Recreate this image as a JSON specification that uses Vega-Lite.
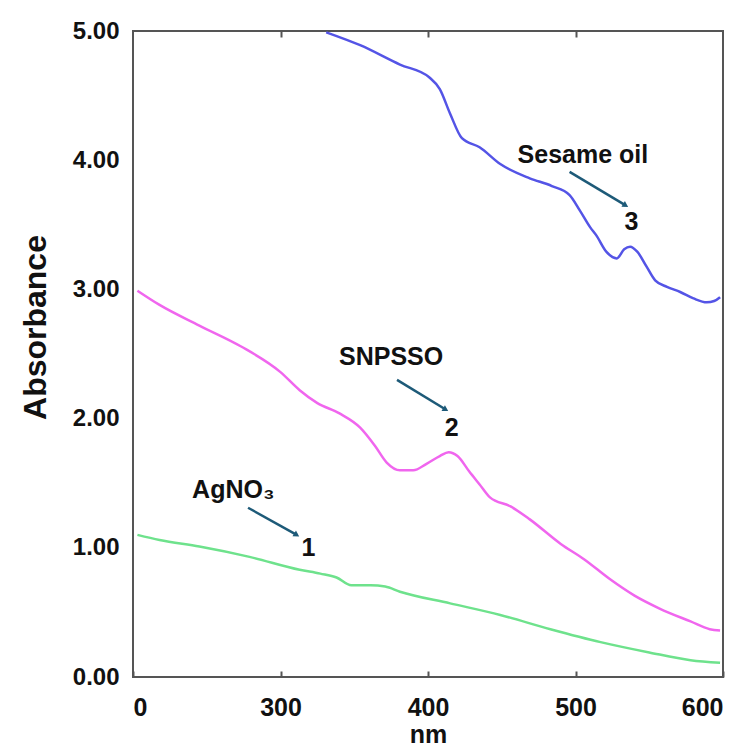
{
  "$schema": "https://vega.github.io/schema/vega-lite/v6.json",
  "autosize": {"type": "none"},
  "width": 590,
  "height": 646,
  "padding": {"left": 133, "top": 31, "right": 21, "bottom": 72},
  "background": "white",
  "config": {
    "view": {"stroke": "#555555", "strokeWidth": 2},
    "axis": {
      "grid": false,
      "domain": false,
      "labelFont": "Liberation Sans",
      "labelFontWeight": "bold",
      "labelFontSize": 24,
      "labelColor": "#111111",
      "titleFont": "Liberation Sans",
      "titleFontWeight": "bold",
      "titleColor": "#111111"
    }
  },
  "datasets": {
    "spectra": [
      {"series": "Sesame oil", "nm": 331, "abs": 4.99},
      {"series": "Sesame oil", "nm": 354, "abs": 4.89},
      {"series": "Sesame oil", "nm": 381, "abs": 4.74},
      {"series": "Sesame oil", "nm": 401, "abs": 4.64},
      {"series": "Sesame oil", "nm": 408, "abs": 4.55},
      {"series": "Sesame oil", "nm": 415, "abs": 4.36},
      {"series": "Sesame oil", "nm": 423, "abs": 4.17},
      {"series": "Sesame oil", "nm": 435, "abs": 4.10},
      {"series": "Sesame oil", "nm": 449, "abs": 3.97},
      {"series": "Sesame oil", "nm": 469, "abs": 3.86},
      {"series": "Sesame oil", "nm": 484, "abs": 3.80},
      {"series": "Sesame oil", "nm": 496, "abs": 3.73},
      {"series": "Sesame oil", "nm": 503, "abs": 3.61},
      {"series": "Sesame oil", "nm": 510, "abs": 3.48},
      {"series": "Sesame oil", "nm": 514, "abs": 3.42},
      {"series": "Sesame oil", "nm": 521, "abs": 3.29},
      {"series": "Sesame oil", "nm": 528, "abs": 3.24},
      {"series": "Sesame oil", "nm": 533, "abs": 3.31},
      {"series": "Sesame oil", "nm": 537, "abs": 3.33},
      {"series": "Sesame oil", "nm": 542, "abs": 3.29},
      {"series": "Sesame oil", "nm": 548, "abs": 3.18},
      {"series": "Sesame oil", "nm": 554, "abs": 3.07},
      {"series": "Sesame oil", "nm": 562, "abs": 3.02},
      {"series": "Sesame oil", "nm": 571, "abs": 2.98},
      {"series": "Sesame oil", "nm": 580, "abs": 2.93},
      {"series": "Sesame oil", "nm": 589, "abs": 2.90},
      {"series": "Sesame oil", "nm": 594, "abs": 2.91},
      {"series": "Sesame oil", "nm": 598, "abs": 2.94},
      {"series": "SNPSSO", "nm": 203, "abs": 2.99},
      {"series": "SNPSSO", "nm": 218, "abs": 2.88},
      {"series": "SNPSSO", "nm": 245, "abs": 2.72},
      {"series": "SNPSSO", "nm": 273, "abs": 2.56},
      {"series": "SNPSSO", "nm": 300, "abs": 2.36},
      {"series": "SNPSSO", "nm": 313, "abs": 2.22},
      {"series": "SNPSSO", "nm": 325, "abs": 2.12},
      {"series": "SNPSSO", "nm": 340, "abs": 2.04},
      {"series": "SNPSSO", "nm": 354, "abs": 1.93},
      {"series": "SNPSSO", "nm": 364, "abs": 1.79},
      {"series": "SNPSSO", "nm": 372, "abs": 1.66},
      {"series": "SNPSSO", "nm": 381, "abs": 1.60},
      {"series": "SNPSSO", "nm": 390, "abs": 1.60},
      {"series": "SNPSSO", "nm": 399, "abs": 1.65},
      {"series": "SNPSSO", "nm": 408, "abs": 1.71},
      {"series": "SNPSSO", "nm": 414, "abs": 1.74},
      {"series": "SNPSSO", "nm": 420, "abs": 1.71},
      {"series": "SNPSSO", "nm": 428, "abs": 1.59},
      {"series": "SNPSSO", "nm": 435, "abs": 1.49},
      {"series": "SNPSSO", "nm": 442, "abs": 1.39},
      {"series": "SNPSSO", "nm": 456, "abs": 1.32},
      {"series": "SNPSSO", "nm": 469, "abs": 1.22},
      {"series": "SNPSSO", "nm": 490, "abs": 1.03},
      {"series": "SNPSSO", "nm": 506, "abs": 0.91},
      {"series": "SNPSSO", "nm": 523, "abs": 0.76},
      {"series": "SNPSSO", "nm": 540, "abs": 0.63},
      {"series": "SNPSSO", "nm": 557, "abs": 0.53},
      {"series": "SNPSSO", "nm": 578, "abs": 0.43},
      {"series": "SNPSSO", "nm": 591, "abs": 0.37},
      {"series": "SNPSSO", "nm": 598, "abs": 0.36},
      {"series": "AgNO3", "nm": 203, "abs": 1.10},
      {"series": "AgNO3", "nm": 218, "abs": 1.06},
      {"series": "AgNO3", "nm": 245, "abs": 1.01},
      {"series": "AgNO3", "nm": 279, "abs": 0.93},
      {"series": "AgNO3", "nm": 313, "abs": 0.83},
      {"series": "AgNO3", "nm": 327, "abs": 0.80},
      {"series": "AgNO3", "nm": 338, "abs": 0.77},
      {"series": "AgNO3", "nm": 348, "abs": 0.71},
      {"series": "AgNO3", "nm": 361, "abs": 0.71},
      {"series": "AgNO3", "nm": 371, "abs": 0.70},
      {"series": "AgNO3", "nm": 381, "abs": 0.66},
      {"series": "AgNO3", "nm": 415, "abs": 0.57},
      {"series": "AgNO3", "nm": 449, "abs": 0.48},
      {"series": "AgNO3", "nm": 483, "abs": 0.37},
      {"series": "AgNO3", "nm": 517, "abs": 0.27},
      {"series": "AgNO3", "nm": 550, "abs": 0.19},
      {"series": "AgNO3", "nm": 578, "abs": 0.13},
      {"series": "AgNO3", "nm": 598, "abs": 0.11}
    ],
    "labels": [
      {"text": "Sesame oil", "nm": 505, "abs": 4.04},
      {"text": "3", "nm": 538, "abs": 3.52},
      {"text": "SNPSSO", "nm": 375, "abs": 2.48},
      {"text": "2", "nm": 416, "abs": 1.93},
      {"text": "AgNO₃", "nm": 268, "abs": 1.45},
      {"text": "1", "nm": 319, "abs": 1.0}
    ],
    "arrows": [
      {"nm": 496, "abs": 3.91, "nm2": 534, "abs2": 3.65},
      {"nm": 379, "abs": 2.30, "nm2": 412, "abs2": 2.07},
      {"nm": 278, "abs": 1.31, "nm2": 311, "abs2": 1.10}
    ]
  },
  "resolve": {"axis": {"x": "independent"}},
  "layer": [
    {
      "data": {"name": "spectra"},
      "mark": {"type": "line", "strokeWidth": 2.5, "clip": true, "interpolate": "monotone"},
      "encoding": {
        "x": {
          "field": "nm", "type": "quantitative",
          "scale": {"domain": [200, 600], "nice": false, "zero": false},
          "axis": {
            "orient": "bottom",
            "values": [200, 300, 400, 500, 600],
            "labelExpr": "datum.value == 200 ? '0' : datum.label",
            "labelFontSize": 25,
            "tickSize": -6, "tickColor": "#555555", "tickWidth": 2,
            "labelPadding": 24,
            "title": "nm", "titleFontSize": 25,
            "titleBaseline": "top", "titleY": 45
          }
        },
        "y": {
          "field": "abs", "type": "quantitative",
          "scale": {"domain": [0, 5], "nice": false},
          "axis": {
            "values": [0, 1, 2, 3, 4, 5],
            "format": ".2f",
            "ticks": false,
            "labelPadding": 14,
            "title": "Absorbance", "titleFontSize": 32,
            "titleAngle": -90, "titleAlign": "center", "titleBaseline": "middle",
            "titleX": -98, "titleY": 296
          }
        },
        "color": {
          "field": "series", "type": "nominal",
          "scale": {"domain": ["Sesame oil", "SNPSSO", "AgNO3"], "range": ["#5454e6", "#f066ee", "#6ee28c"]},
          "legend": null
        },
        "detail": {"field": "series"}
      }
    },
    {
      "data": {"name": "arrows"},
      "mark": {"type": "rule", "color": "#1d5a78", "strokeWidth": 2.5},
      "encoding": {
        "x": {"field": "nm", "type": "quantitative", "axis": null},
        "y": {"field": "abs", "type": "quantitative"},
        "x2": {"field": "nm2"},
        "y2": {"field": "abs2"}
      }
    },
    {
      "data": {"name": "arrows"},
      "mark": {"type": "point", "shape": "triangle-right", "filled": true, "color": "#1d5a78", "size": 45, "angle": 31, "opacity": 1},
      "encoding": {
        "x": {"field": "nm2", "type": "quantitative", "axis": null},
        "y": {"field": "abs2", "type": "quantitative"}
      }
    },
    {
      "data": {"name": "labels"},
      "mark": {"type": "text", "font": "Liberation Sans", "fontWeight": "bold", "fontSize": 25, "color": "#111111", "align": "center", "baseline": "middle"},
      "encoding": {
        "x": {
          "field": "nm", "type": "quantitative",
          "axis": {
            "orient": "top",
            "values": [300, 400, 500],
            "labels": false,
            "tickSize": -6, "tickColor": "#555555", "tickWidth": 2,
            "title": null
          }
        },
        "y": {"field": "abs", "type": "quantitative"},
        "text": {"field": "text"}
      }
    }
  ]
}
